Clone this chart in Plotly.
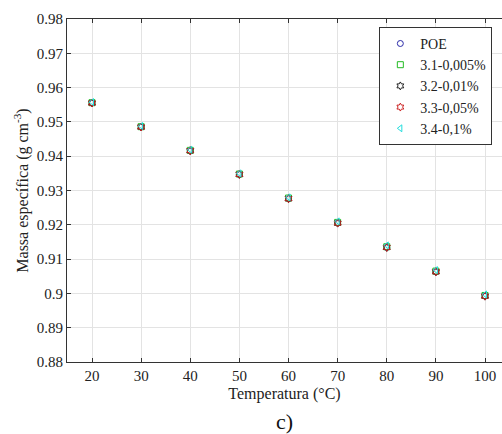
import plotly.graph_objects as go

temperatura = [20, 30, 40, 50, 60, 70, 80, 90, 100]
poe = [0.9555, 0.9485, 0.9415, 0.9347, 0.9276, 0.9205, 0.9134, 0.9063, 0.8992]
s31 = [0.9556, 0.9486, 0.9417, 0.9348, 0.9278, 0.9207, 0.9136, 0.9065, 0.8994]
s32 = [0.9555, 0.9485, 0.9416, 0.9347, 0.9276, 0.9205, 0.9134, 0.9063, 0.8992]
s33 = [0.9555, 0.9485, 0.9416, 0.9347, 0.9276, 0.9205, 0.9134, 0.9063, 0.8992]
s34 = [0.9558, 0.9488, 0.9419, 0.9350, 0.9280, 0.9210, 0.9140, 0.9068, 0.8997]
y_ticks = [0.88, 0.89, 0.9, 0.91, 0.92, 0.93, 0.94, 0.95, 0.96, 0.97, 0.98]
y_tick_labels = ["0.88", "0.89", "0.9", "0.91", "0.92", "0.93", "0.94", "0.95", "0.96", "0.97", "0.98"]

series = [
    ("POE", poe, "circle-open", "#2a2aa8"),
    ("3.1-0,005%", s31, "square-open", "#22bb22"),
    ("3.2-0,01%", s32, "hexagram-open", "#222222"),
    ("3.3-0,05%", s33, "hexagram-open", "#cc2222"),
    ("3.4-0,1%", s34, "triangle-left-open", "#22dddd"),
]

serif = "Liberation Serif, Times New Roman, serif"
fig = go.Figure()
for name, ys, sym, col in series:
    fig.add_trace(go.Scatter(
        x=temperatura, y=ys, mode="markers", name=name,
        marker=dict(symbol=sym, size=6, color=col, line=dict(width=1, color=col)),
    ))

fig.update_layout(
    width=502, height=434,
    margin=dict(l=67, r=0, t=19, b=72),
    paper_bgcolor="white", plot_bgcolor="white",
    font=dict(family=serif, size=15, color="#222222"),
    showlegend=True,
    legend=dict(x=0.718, y=0.977, xanchor="left", yanchor="top",
                bgcolor="white", bordercolor="#333333", borderwidth=1,
                font=dict(family=serif, size=14, color="#222222"),
                tracegroupgap=0, itemwidth=30),
    xaxis=dict(range=[14.91, 103.46], tickvals=temperatura, ticks="inside", ticklen=4,
               tickcolor="#333333", showline=True, linecolor="#333333", linewidth=1,
               mirror="ticks", showgrid=True, gridcolor="#e3e3e3", zeroline=False,
               automargin=False,
               title=dict(text="Temperatura (°C)", font=dict(size=16), standoff=4)),
    yaxis=dict(range=[0.88, 0.98], ticks="inside", ticklen=4,
               tickcolor="#333333", showline=True, linecolor="#333333", linewidth=1,
               showgrid=True, gridcolor="#e3e3e3", zeroline=False, automargin=False,
               tickvals=y_ticks, ticktext=y_tick_labels,
               title=dict(text="Massa específica (g cm<sup>-3</sup>)", font=dict(size=16), standoff=4)),
    annotations=[dict(text="c)", x=0.5, y=-0.13, xref="paper", yref="paper",
                      xanchor="center", yanchor="top", showarrow=False,
                      font=dict(family=serif, size=22, color="#111111"))],
)

fig.write_html("out.html", config={"displayModeBar": False},
               post_script="document.body.style.margin='0';document.body.style.overflow='hidden';")
